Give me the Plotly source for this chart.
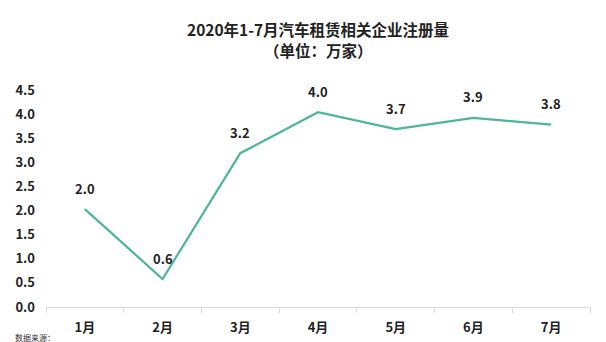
import plotly.graph_objects as go

months = ["1月", "2月", "3月", "4月", "5月", "6月", "7月"]
values = [2.03, 0.58, 3.19, 4.04, 3.69, 3.92, 3.78]
labels = ["2.0", "0.6", "3.2", "4.0", "3.7", "3.9", "3.8"]
ytick_vals = [0, 0.5, 1, 1.5, 2, 2.5, 3, 3.5, 4, 4.5]
ytick_text = ["0.0", "0.5", "1.0", "1.5", "2.0", "2.5", "3.0", "3.5", "4.0", "4.5"]

FONT = "Noto Sans CJK SC"
fig = go.Figure()
fig.add_trace(go.Scatter(
    x=months, y=values, mode="lines",
    line=dict(color="#4db599", width=2.2),
    hoverinfo="skip", showlegend=False,
))
for m, v, t in zip(months, values, labels):
    fig.add_annotation(x=m, y=v, text="<b>" + t + "</b>", showarrow=False,
                       yshift=21, font=dict(family=FONT, size=13, color="#222"))

fig.add_annotation(xref="paper", yref="paper", x=0.5, y=1, yshift=61,
                   text="<b>2020年1-7月汽车租赁相关企业注册量</b>",
                   showarrow=False, xanchor="center", yanchor="middle",
                   font=dict(family=FONT, size=15.5, color="#222"))
fig.add_annotation(xref="paper", yref="paper", x=0.5, y=1, yshift=40,
                   text="<b>（单位：万家）</b>",
                   showarrow=False, xanchor="center", yanchor="middle",
                   font=dict(family=FONT, size=15.5, color="#222"))
fig.add_annotation(xref="paper", yref="paper", x=-0.06, y=0, yshift=-23,
                   text="数据来源：", showarrow=False, xanchor="left", yanchor="top",
                   font=dict(family=FONT, size=8, color="#333"))

fig.update_layout(
    width=606, height=342,
    margin=dict(l=46, r=16, t=90, b=35),
    paper_bgcolor="white", plot_bgcolor="white",
    font=dict(family=FONT, color="#222"),
    xaxis=dict(
        range=[-0.5, 6.5], automargin=False,
        showline=True, linecolor="#d9d9d9", linewidth=1,
        ticks="outside", tickson="boundaries", tickcolor="#d9d9d9", ticklen=5,
        ticklabelstandoff=8,
        showgrid=False, tickfont=dict(family=FONT, size=13, color="#222"),
        tickvals=months, ticktext=["<b>" + m + "</b>" for m in months],
    ),
    yaxis=dict(
        range=[0, 4.5], showgrid=False, zeroline=False, showline=False,
        automargin=False,
        tickvals=ytick_vals, ticktext=["<b>" + t + "</b>" for t in ytick_text],
        tickfont=dict(family=FONT, size=13, color="#222"),
        ticklabelstandoff=10,
    ),
)
fig.write_html("out.html")
